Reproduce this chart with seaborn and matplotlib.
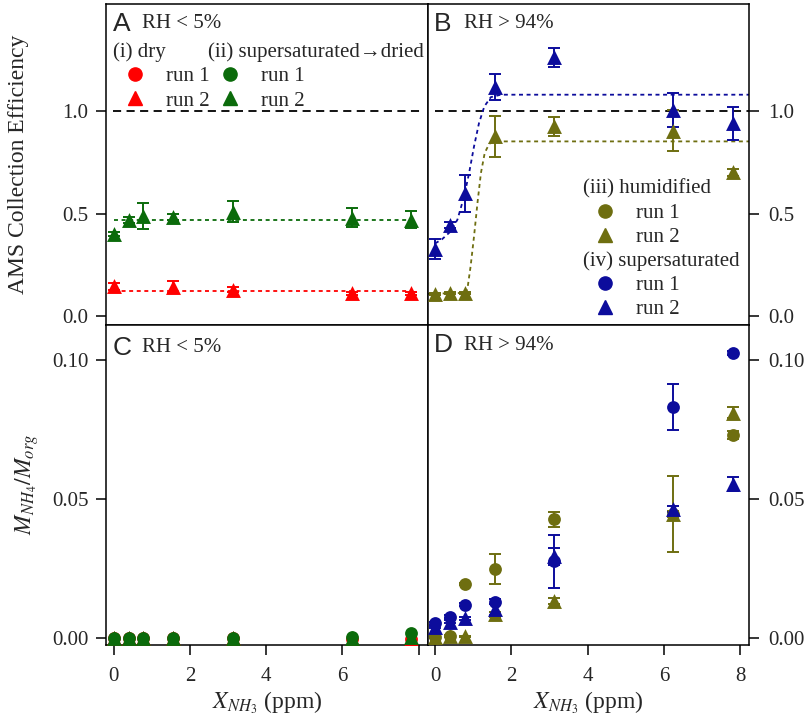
import matplotlib.pyplot as plt
import numpy as np
import seaborn as sns
from matplotlib.lines import Line2D

# NH3 mixing ratios (ppm)
x_nh3 = [0, 0.39, 0.78, 1.56, 3.125, 6.25, 7.8]
x_dry = [0, 1.56, 3.125, 6.25, 7.8]

# panel A: collection efficiency, RH < 5%
ce_dry_run2 = [0.147, 0.144, 0.131, 0.112, 0.112]
ce_dry_run2_err = [0.018, 0.03, 0.012, 0.006, 0.006]
ce_dried_run2 = [0.401, 0.467, 0.487, 0.484, 0.51, 0.479, 0.471]
ce_dried_run2_err = [0.01, 0.015, 0.063, 0.015, 0.05, 0.046, 0.042]
fit_flat_x = [0, 7.8]
fit_dry = [0.126, 0.126]
fit_dried = [0.467, 0.467]

# panel B: collection efficiency, RH > 94%
ce_hum_run2 = [0.110, 0.115, 0.115, 0.875, 0.924, 0.903, 0.70]
ce_hum_run2_err = [0.005, 0.005, 0.005, 0.10, 0.047, 0.10, 0.015]
ce_sup_run2 = [0.329, 0.443, 0.600, 1.115, 1.259, 1.005, 0.940]
ce_sup_run2_err = [0.05, 0.015, 0.09, 0.064, 0.047, 0.083, 0.08]
fit_hum_x = [-0.2, 0.8, 0.85, 0.93, 1.02, 1.11, 1.20, 1.30, 1.42, 1.59, 8.23]
fit_hum_y = [0.11, 0.115, 0.139, 0.244, 0.390, 0.552, 0.697, 0.795, 0.840, 0.851, 0.851]
fit_sup_x = [0, 0.19, 0.41, 0.585, 0.76, 0.89, 1.02, 1.15, 1.29, 1.46, 1.72, 8.23]
fit_sup_y = [0.355, 0.377, 0.414, 0.471, 0.584, 0.697, 0.827, 0.940, 1.021, 1.066, 1.078, 1.078]
ce_ideal = 1.0

# panel C: M_NH4/M_org, RH < 5%
mr_dry_run1 = [0.0, 0.0, 0.0, 0.0, 0.0, -0.0003, -0.0004]
mr_dry_run2 = [0.0, 0.0, 0.0, 0.0, 0.0, -0.0002, -0.0003]
mr_dried_run1 = [0.0002, 0.0002, 0.0002, 0.0002, 0.0002, 0.0003, 0.0019]
mr_dried_run2 = [0.0001, 0.0001, 0.0001, 0.0001, 0.0001, 0.0002, 0.0004]

# panel D: M_NH4/M_org, RH > 94%
mr_hum_run1 = [0.0005, 0.0006, 0.0194, 0.0248, 0.0427, 0.0446, 0.0729]
mr_hum_run1_err = [0.0003, 0.0003, 0.0003, 0.0053, 0.0027, 0.0137, 0.0015]
mr_hum_run2 = [0.0005, 0.0007, 0.0006, 0.0085, 0.0133, 0.0446, 0.081]
mr_hum_run2_err = [0.0003, 0.0003, 0.0003, 0.001, 0.001, 0.001, 0.002]
mr_sup_run1 = [0.0053, 0.0077, 0.012, 0.0131, 0.0275, 0.083, 0.1024]
mr_sup_run1_err = [0.0005, 0.0005, 0.0005, 0.001, 0.0095, 0.0084, 0.0008]
mr_sup_run2 = [0.004, 0.0059, 0.0071, 0.0104, 0.0293, 0.0463, 0.0554]
mr_sup_run2_err = [0.0005, 0.0005, 0.0005, 0.002, 0.003, 0.001, 0.0025]

x_ticks = [0, 2, 4, 6, 8]

RED = "#ff0000"
GREEN = "#0b6b0b"
OLIVE = "#6e6e10"
BLUE = "#0c0c9c"

sns.set_style("ticks")
plt.rcParams["font.family"] = ["Liberation Serif", "DejaVu Serif"]
plt.rcParams["mathtext.fontset"] = "stix"
plt.rcParams["axes.linewidth"] = 1.1

fig, axes = plt.subplots(2, 2, figsize=(8.1, 7.22), dpi=100)
fig.subplots_adjust(left=0.1309, right=0.9247, top=0.9945, bottom=0.1066,
                    wspace=0, hspace=0)
axA, axB = axes[0]
axC, axD = axes[1]

SIZES = {"o": 85, "^": 115}


def draw(ax, x, y, color, marker, err=None):
    if err is not None:
        ax.errorbar(x, y, yerr=err, fmt="none", ecolor=color, elinewidth=1.4,
                    capsize=4, capthick=1.4, zorder=2)
    sns.scatterplot(x=x, y=y, ax=ax, color=color, marker=marker,
                    s=SIZES[marker], linewidth=0, zorder=3, legend=False)


dotted = (0, (2.2, 2))
dashed = (0, (4.5, 3))

# A
axA.axhline(ce_ideal, xmin=0.022, xmax=0.98, color="black", lw=1.3, ls=dashed)
axA.plot(fit_flat_x, fit_dry, color=RED, lw=1.3, ls=dotted)
axA.plot(fit_flat_x, fit_dried, color=GREEN, lw=1.3, ls=dotted)
draw(axA, x_dry, ce_dry_run2, RED, "^", ce_dry_run2_err)
draw(axA, x_nh3, ce_dried_run2, GREEN, "^", ce_dried_run2_err)

# B
axB.axhline(ce_ideal, xmin=0.022, xmax=1, color="black", lw=1.3, ls=dashed)
axB.plot(fit_hum_x, fit_hum_y, color=OLIVE, lw=1.3, ls=dotted)
axB.plot(fit_sup_x, fit_sup_y, color=BLUE, lw=1.3, ls=dotted)
draw(axB, x_nh3, ce_hum_run2, OLIVE, "^", ce_hum_run2_err)
draw(axB, x_nh3, ce_sup_run2, BLUE, "^", ce_sup_run2_err)

# C
draw(axC, x_nh3, mr_dry_run1, RED, "o")
draw(axC, x_nh3, mr_dry_run2, RED, "^")
draw(axC, x_nh3, mr_dried_run2, GREEN, "^")
draw(axC, x_nh3, mr_dried_run1, GREEN, "o")

# D
draw(axD, x_nh3, mr_hum_run1, OLIVE, "o", mr_hum_run1_err)
draw(axD, x_nh3, mr_hum_run2, OLIVE, "^", mr_hum_run2_err)
draw(axD, x_nh3, mr_sup_run1, BLUE, "o", mr_sup_run1_err)
draw(axD, x_nh3, mr_sup_run2, BLUE, "^", mr_sup_run2_err)

for ax in (axA, axB):
    ax.set_ylim(-0.039, 1.519)
    ax.set_yticks([0.0, 0.5, 1.0])
    ax.set_yticklabels(["0.0", "0.5", "1.0"])
    ax.set_xticks(x_ticks)
    ax.tick_params(axis="x", bottom=False, labelbottom=False)
for ax in (axC, axD):
    ax.set_ylim(-0.0025, 0.1126)
    ax.set_yticks([0.0, 0.05, 0.10])
    ax.set_yticklabels(["0.00", "0.05", "0.10"])
    ax.set_xlabel(r"$X_{NH_3}$ (ppm)", fontsize=17, labelpad=3)
    ax.set_xticks(x_ticks)
for ax in axes.flat:
    ax.set_xlim(-0.2, 8.23)
    ax.tick_params(direction="out", length=7.5, width=1.1, labelsize=15,
                   color="black")
    ax.tick_params(axis="y", pad=5)
    ax.tick_params(axis="x", pad=8)
    ax.set_ylabel("")
    for sp in ax.spines.values():
        sp.set_linewidth(1.1)
        sp.set_color("black")

axC.set_xticklabels(["0", "2", "4", "6", ""])
axD.set_xticklabels(["0", "2", "4", "6", "8"])

for ax in (axB, axD):
    ax.yaxis.tick_right()
    ax.tick_params(axis="y", pad=6)

axA.set_ylabel("AMS Collection Efficiency", fontsize=17, labelpad=24)
axC.set_ylabel(r"$M_{NH_4}/M_{org}$", fontsize=17, labelpad=8)

# panel tags
tags = [(axA, "A", "RH < 5%", 0.938), (axB, "B", "RH > 94%", 0.938),
        (axC, "C", "RH < 5%", 0.928), (axD, "D", "RH > 94%", 0.935)]
for ax, letter, rh, yy in tags:
    ax.text(0.02, yy, letter, transform=ax.transAxes, fontsize=19,
            family="Liberation Sans", va="center")
    ax.text(0.112, yy, rh, transform=ax.transAxes, fontsize=15, va="center")


def handles(color):
    return [Line2D([], [], ls="none", marker="o", color=color, ms=9.5),
            Line2D([], [], ls="none", marker="^", color=color, ms=10.5)]


leg_kw = dict(loc="upper left", frameon=False, fontsize=15, title_fontsize=15,
              alignment="left", handlelength=2.1, handletextpad=0.45,
              labelspacing=0.22, borderpad=0, borderaxespad=0)

leg = axA.legend(handles(RED), ["run 1", "run 2"], title="(i) dry",
                 bbox_to_anchor=(0.022, 0.88), **leg_kw)
axA.add_artist(leg)
axA.legend(handles(GREEN), ["run 1", "run 2"],
           title="(ii) supersaturated\u2192dried",
           bbox_to_anchor=(0.317, 0.88), **leg_kw)

leg = axB.legend(handles(OLIVE), ["run 1", "run 2"], title="(iii) humidified",
                 bbox_to_anchor=(0.483, 0.453), **leg_kw)
axB.add_artist(leg)
axB.legend(handles(BLUE), ["run 1", "run 2"], title="(iv) supersaturated",
           bbox_to_anchor=(0.483, 0.228), **leg_kw)

fig.savefig("out.png", dpi=100)
plt.close(fig)
